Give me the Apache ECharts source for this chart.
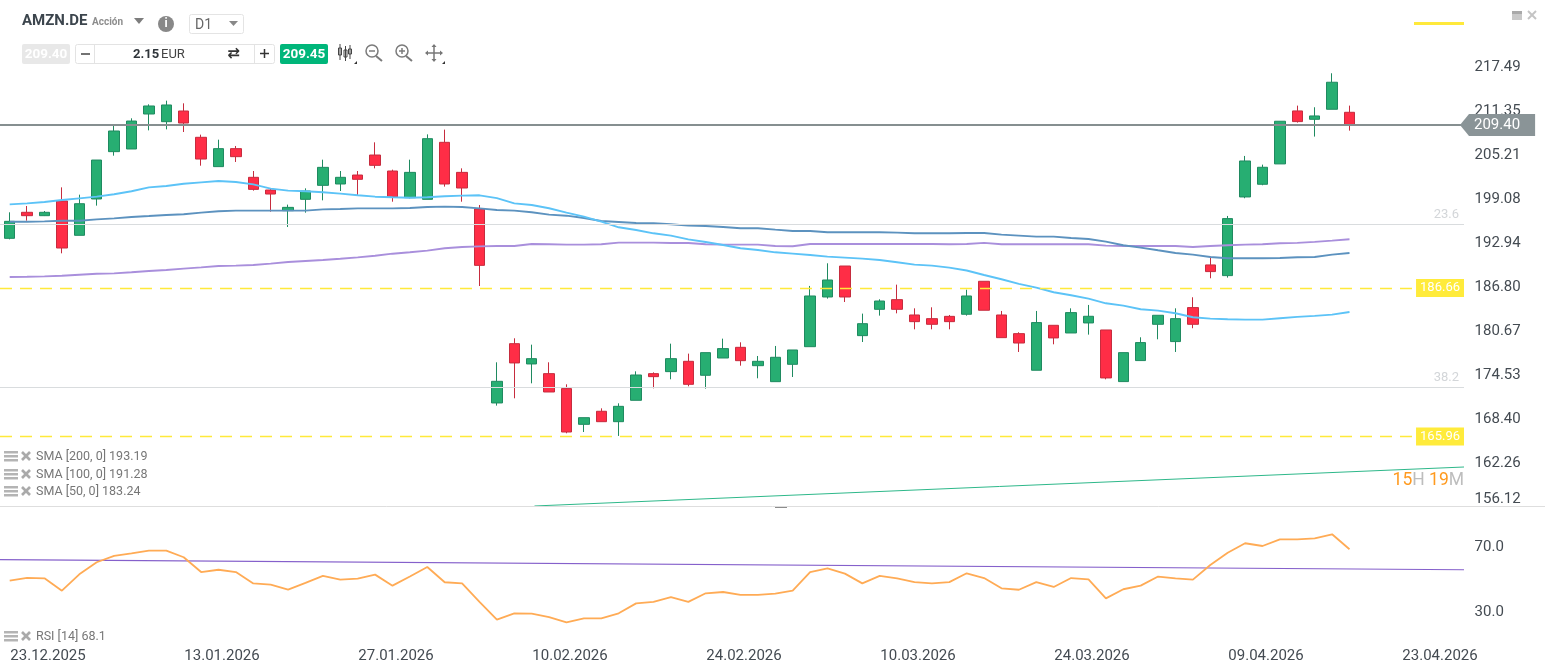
<!DOCTYPE html>
<html><head><meta charset="utf-8">
<style>html,body{margin:0;padding:0;background:#fff}#c{width:1545px;height:667px}</style>
<script src="https://cdn.jsdelivr.net/npm/echarts@6/dist/echarts.min.js"></script>
</head><body><div id="c"></div>
<script>
const dates = ['19.12.2025','22.12.2025','23.12.2025','29.12.2025','30.12.2025','02.01.2026','05.01.2026','06.01.2026','07.01.2026','08.01.2026','09.01.2026','12.01.2026','13.01.2026','14.01.2026','15.01.2026','16.01.2026','19.01.2026','20.01.2026','21.01.2026','22.01.2026','23.01.2026','26.01.2026','27.01.2026','28.01.2026','29.01.2026','30.01.2026','02.02.2026','03.02.2026','04.02.2026','05.02.2026','06.02.2026','09.02.2026','10.02.2026','11.02.2026','12.02.2026','13.02.2026','16.02.2026','17.02.2026','18.02.2026','19.02.2026','20.02.2026','23.02.2026','24.02.2026','25.02.2026','26.02.2026','27.02.2026','02.03.2026','03.03.2026','04.03.2026','05.03.2026','06.03.2026','09.03.2026','10.03.2026','11.03.2026','12.03.2026','13.03.2026','16.03.2026','17.03.2026','18.03.2026','19.03.2026','20.03.2026','23.03.2026','24.03.2026','25.03.2026','26.03.2026','27.03.2026','30.03.2026','31.03.2026','01.04.2026','02.04.2026','07.04.2026','08.04.2026','09.04.2026','10.04.2026','13.04.2026','14.04.2026','15.04.2026','16.04.2026','17.04.2026','20.04.2026','21.04.2026','22.04.2026','23.04.2026','24.04.2026'];
const tickDates = ['23.12.2025','13.01.2026','27.01.2026','10.02.2026','24.02.2026','10.03.2026','24.03.2026','09.04.2026','23.04.2026'];
const priceTicks = [156.12,162.26,168.40,174.53,180.67,186.80,192.94,199.08,205.21,211.35,217.49];
const rsiTicks = [30,70];
// open, close, low, high
const ohlc = [
[193.59,195.96,193.45,197.22],[197.22,196.75,196.05,198.10],[196.75,197.22,196.70,197.40],[198.80,192.24,191.50,200.70],
[194.01,198.42,194.01,199.68],[199.08,204.51,198.15,204.51],[205.68,208.56,205.12,209.26],[206.05,209.95,206.05,210.33],
[210.93,212.05,208.65,212.28],[209.86,212.19,208.79,212.79],[211.35,209.67,208.42,212.42],[207.68,204.65,203.72,208.05],
[203.59,206.10,203.59,207.35],[206.10,204.98,204.24,206.47],[202.10,200.42,200.24,202.98],[200.33,199.77,197.31,200.56],
[197.45,197.91,195.17,198.29],[199.03,200.19,197.17,200.56],[200.98,203.49,198.89,204.56],[201.17,202.10,200.19,202.98],
[202.42,201.82,199.59,202.98],[205.21,203.77,203.35,206.98],[202.98,199.36,198.70,203.17],[199.26,202.79,199.17,204.56],
[199.03,207.49,199.03,208.09],[206.98,201.17,200.80,208.75],[202.79,200.61,198.70,203.35],[197.68,189.82,186.94,198.24],
[170.63,173.65,170.26,176.30],[178.90,176.21,171.28,179.65],[176.07,176.81,173.37,178.76],[174.72,172.16,172.16,176.30],
[172.63,166.58,166.40,173.23],[167.65,168.58,166.58,168.58],[169.47,168.02,168.02,169.88],[168.02,170.16,166.03,170.58],
[171.00,174.53,171.00,175.04],[174.72,174.30,172.67,174.90],[175.00,176.81,173.93,178.90],[176.44,173.23,172.95,177.51],
[174.49,177.65,172.63,177.65],[176.90,178.21,176.90,179.60],[178.39,176.53,175.83,179.09],[175.83,176.44,174.07,177.18],
[173.60,177.00,173.60,178.58],[176.02,178.02,174.25,178.02],[178.48,185.55,178.48,186.95],[185.41,187.78,185.18,190.11],
[189.73,185.41,184.71,189.73],[180.02,181.69,179.13,183.09],[183.69,184.85,182.81,185.09],[185.04,183.69,183.13,187.13],
[182.90,181.97,180.90,183.83],[182.39,181.60,180.90,183.97],[182.71,181.97,180.90,182.90],[183.00,185.55,182.81,186.43],
[187.60,183.56,183.56,187.60],[182.90,179.74,179.74,183.46],[180.30,178.99,177.74,180.49],[175.19,181.84,175.19,183.46],
[181.46,179.70,178.81,181.46],[180.39,183.23,180.39,183.83],[181.79,182.72,180.16,184.30],[180.81,174.12,173.93,180.81],
[173.61,177.65,173.61,177.65],[176.54,179.05,176.54,179.79],[181.60,182.86,179.51,182.86],[179.19,182.39,177.74,183.83],
[183.93,181.60,181.05,185.37],[189.88,188.95,188.02,191.04],[188.39,196.34,188.11,196.71],[199.36,204.38,199.18,205.08],
[201.13,203.50,200.99,203.87],[203.97,209.92,203.97,209.92],[211.36,209.87,209.73,212.10],[210.19,210.66,207.78,211.87],
[211.59,215.36,211.59,216.61],[211.17,209.40,208.61,212.10]];
const sma50 = [198.33,198.47,198.66,198.94,199.17,199.40,199.73,200.15,200.70,200.89,201.21,201.40,201.59,201.45,201.12,200.52,200.24,200.15,200.01,199.82,199.59,199.40,199.31,199.26,199.31,199.45,199.54,199.59,199.20,198.47,198.24,197.78,197.17,196.62,195.92,195.13,194.76,194.29,193.97,193.45,193.08,192.66,192.20,191.97,191.64,191.46,191.27,191.04,190.90,190.76,190.57,190.25,189.92,189.78,189.50,189.10,188.48,187.88,187.23,186.72,186.07,185.65,185.18,184.53,184.21,183.70,183.51,183.14,182.58,182.39,182.30,182.25,182.25,182.44,182.63,182.77,182.95,183.32];
const sma100 = [195.91,195.91,195.96,196.05,196.05,196.24,196.38,196.57,196.70,196.84,196.94,197.17,197.36,197.45,197.45,197.45,197.45,197.45,197.63,197.68,197.77,197.77,197.77,197.82,197.96,198.01,197.96,197.77,197.55,197.45,197.22,196.89,196.75,196.43,196.01,195.87,195.73,195.69,195.55,195.36,195.31,195.17,194.99,194.99,194.80,194.62,194.62,194.43,194.43,194.43,194.43,194.38,194.29,194.29,194.29,194.34,194.34,194.11,193.97,193.83,193.83,193.64,193.50,193.13,192.62,192.30,191.92,191.55,191.32,190.99,190.81,190.81,190.81,190.85,190.95,190.99,191.32,191.55];
const sma200 = [188.20,188.24,188.29,188.38,188.52,188.66,188.71,188.85,189.03,189.17,189.36,189.54,189.73,189.78,189.87,190.06,190.29,190.43,190.57,190.75,190.94,191.17,191.45,191.64,191.87,192.20,192.38,192.47,192.52,192.52,192.80,192.76,192.71,192.71,192.76,192.99,192.99,192.99,192.94,192.94,192.76,192.71,192.71,192.71,192.52,192.48,192.80,192.80,192.80,192.80,192.80,192.80,192.80,192.80,192.76,192.81,192.95,192.76,192.76,192.76,192.76,192.76,192.76,192.57,192.53,192.53,192.53,192.53,192.39,192.53,192.62,192.71,192.76,192.90,192.95,193.09,193.27,193.46];
const rsi = [49.3,51.0,50.7,43.1,53.2,60.6,64.5,66.1,67.8,67.8,63.7,54.6,56.0,54.6,47.6,46.8,43.8,47.9,52.2,49.9,50.5,53.0,46.2,51.8,57.7,48.3,47.6,36.2,25.3,29.2,29.0,26.9,23.6,26.1,26.1,29.2,35.3,36.2,39.2,36.2,41.5,42.3,40.5,40.5,41.3,43.1,54.6,56.9,53.6,47.6,52.2,50.7,48.4,47.6,48.4,53.8,50.9,44.6,43.7,48.4,45.4,50.9,50.1,38.4,44.0,46.2,51.8,50.7,49.9,58.9,66.5,72.3,70.6,74.7,74.7,75.3,77.8,68.6];
const lastPrice = 209.40;
const supportLevels = [186.66,165.96];
const fibLevels = [{v:195.59,n:'23.6'},{v:172.79,n:'38.2'}];
const trendPrice = [[30.16,156.26],[83.6,161.70]];
const trendRsi = [[-0.56,62.2],[83.6,56.0]];
const legends = [['SMA [200, 0] 193.19',456],['SMA [100, 0] 191.28',474],['SMA [50, 0] 183.24',491],['RSI [14] 68.1',636]];

const F='Roboto';
const T=(x,y,text,size,fill,extra)=>({type:'text',silent:true,z:50,style:Object.assign({x,y,text,fontFamily:F,fontSize:size,fill,verticalAlign:'middle'},extra||{})});
const R=(x,y,w,h,fill,stroke,r)=>({type:'rect',silent:true,z:49,shape:{x,y,width:w,height:h,r:r||0},style:{fill:fill||'none',stroke:stroke||'none',lineWidth:1}});
const L=(a,b,c,d,col,w)=>({type:'line',silent:true,z:50,shape:{x1:a,y1:b,x2:c,y2:d},style:{stroke:col,lineWidth:w||1}});
const P=(pts,fill)=>({type:'polygon',silent:true,z:50,shape:{points:pts},style:{fill}});
const C=(x,y,r,fill,stroke,w)=>({type:'circle',silent:true,z:50,shape:{cx:x,cy:y,r},style:{fill:fill||'none',stroke:stroke||'none',lineWidth:w||1}});

const g=[];
// header
g.push(T(22,21.5,'AMZN.DE',15,'#3c454d',{fontWeight:'bold'}),T(92,22.5,'Acción',10,'#8d8d8d',{fontWeight:'bold'}));
g.push(P([[134,18],[144,18],[139,24]],'#7d7d7d'));
g.push(C(166,24,8,'#888'),T(166,24,'i',12,'#fff',{fontWeight:'bold',align:'center'}));
g.push(R(189.5,14.5,54,19,'#fff','#e4e4e4',2),T(195,25,'D1',14,'#666'),P([[229,21],[238,21],[233.5,26]],'#888'));
g.push(R(22,44,48,20,'#e8e8e8',null,2),T(46,54.5,'209.40',13.5,'#fff',{fontWeight:'bold',align:'center'}));
g.push(R(75.5,44.5,199,19,'#fff','#e3e3e3',2),L(94.5,45,94.5,63,'#e3e3e3'),L(254.5,45,254.5,63,'#e3e3e3'));
g.push(L(81,54,90,54,'#444',1.5),L(260,53.5,269,53.5,'#333',1.5),L(264.5,49,264.5,58,'#333',1.5));
g.push(T(133,54.5,'2.15',13,'#2f353a',{fontWeight:'bold'}),T(161,54.5,'EUR',13,'#444'),T(233.5,54,'⇄',15,'#333',{align:'center',fontFamily:'DejaVu Sans',fontWeight:'bold'}));
g.push(R(280,44,48,20,'#00b67a',null,2),T(304,54.5,'209.45',13.5,'#fff',{fontWeight:'bold',align:'center'}));
[[340,48,55,44,60],[345.5,50,57,46,61],[350,49,54,45,59]].forEach(a=>{g.push(L(a[0],a[3],a[0],a[4],'#444'),R(a[0]-1.5,a[1],3,a[2]-a[1],'#fff','#444'));});
g.push(P([[354,64],[357,64],[357,61]],'#333'),P([[442,64],[445,64],[445,61]],'#333'));
g.push(C(372,51,6,null,'#7b7b7b',1.5),L(376,56,382,61,'#7b7b7b',2),L(369,51,375,51,'#7b7b7b',1.5));
g.push(C(402,51,6,null,'#7b7b7b',1.5),L(406,56,412,61,'#7b7b7b',2),L(399,51,405,51,'#7b7b7b',1.5),L(402,48,402,54,'#7b7b7b',1.5));
g.push(L(426,53,442,53,'#777',1.5),L(434,45,434,61,'#777',1.5),P([[425,53],[428,50.5],[428,55.5]],'#777'),P([[443,53],[440,50.5],[440,55.5]],'#777'),P([[434,44],[431.5,47],[436.5,47]],'#777'),P([[434,62],[431.5,59],[436.5,59]],'#777'));
g.push(R(1414,22,50,3,'#ffe93b'));
g.push(R(1512,11,10,9,'#c9c9c9'),R(1512,11,10,3,'#a9a9a9'),L(1528,11,1536,19,'#c4c4c4',2),L(1536,11,1528,19,'#c4c4c4',2));
// panel furniture
g.push(L(0,506.5,1545,506.5,'#dedede'),R(775,506,12,2,'#8c8c8c'));
g.push(P([[1460,125],[1469,114],[1469,136]],'#8a9497'));
g.push(T(1464,481,'{o|15}{g|H} {o|19}{g|M}',17.5,'#bbb',{align:'right',rich:{o:{fill:'#ff9a1f',fontSize:17.5,fontFamily:F},g:{fill:'#bdbdbd',fontSize:17.5,fontFamily:F}}}));
legends.forEach(l=>{const y=l[1];
 g.push(R(4,y-5,14,2.5,'#b4b4b4'),R(4,y-1,14,2.5,'#b4b4b4'),R(4,y+3,14,2.5,'#b4b4b4'),L(22,y-4,30,y+4,'#aaa',2.6),L(30,y-4,22,y+4,'#aaa',2.6),T(36,y+1,l[0],12.5,'#777'));
});

const hline=v=>[{x:0,yAxis:v},{x:1464,yAxis:v}];
const priceSeries=(name,data,col)=>({name,type:'line',data,xAxisIndex:0,yAxisIndex:0,symbol:'none',z:4,silent:true,lineStyle:{color:col,width:1.9}});
const opt={animation:false,backgroundColor:'#fff',
 grid:[{left:1,top:0,width:1461.6,height:507},{left:1,top:507,width:1461.6,height:138}],
 xAxis:[
  {type:'category',data:dates,gridIndex:0,show:false,boundaryGap:true},
  {type:'category',data:dates,gridIndex:1,boundaryGap:true,axisLine:{show:false},axisTick:{show:false},splitLine:{show:false},
   axisLabel:{interval:(i)=>tickDates.includes(dates[i]),fontFamily:F,fontSize:15,color:'#444b52',margin:4,padding:[0,0,0,7],hideOverlap:false}},
  {type:'value',gridIndex:0,min:-0.5,max:83.5,show:false,splitLine:{show:false}},
  {type:'value',gridIndex:1,min:-0.5,max:83.5,show:false,splitLine:{show:false}}],
 yAxis:[
  {type:'value',gridIndex:0,position:'right',min:156.12,max:226.83,scale:true,splitLine:{show:false},axisLine:{show:false},axisTick:{show:false},
   axisLabel:{customValues:priceTicks,formatter:v=>v.toFixed(2),fontFamily:F,fontSize:15,color:'#444b52',margin:12,verticalAlignMinLabel:'bottom'}},
  {type:'value',gridIndex:1,position:'right',min:9.7,max:94.6,splitLine:{show:false},axisLine:{show:false},axisTick:{show:false},
   axisLabel:{customValues:rsiTicks,formatter:v=>v.toFixed(1),fontFamily:F,fontSize:15,color:'#444b52',margin:12,padding:[4,0,0,0]}}],
 series:[
  {name:'Fib',type:'line',data:[],xAxisIndex:0,yAxisIndex:0,z:1,silent:true,
   markLine:{silent:true,symbol:'none',animation:false,lineStyle:{color:'#d9dcde',width:1.2,type:'solid'},
    data:fibLevels.map(f=>{const p=hline(f.v);p[0].name=f.n;p[1].name=f.n;return p;}),label:{position:'insideEndTop',formatter:'{b}',color:'#d3d6d9',fontFamily:F,fontSize:13,distance:[5,3]}}},
  {name:'Last',type:'line',data:[],xAxisIndex:0,yAxisIndex:0,z:2,silent:true,
   markLine:{silent:true,symbol:'none',animation:false,lineStyle:{color:'#868f90',width:2,type:'solid'},
    data:[hline(lastPrice)],label:{position:'end',distance:5,formatter:()=>lastPrice.toFixed(2),color:'#fff',fontFamily:F,fontSize:15,backgroundColor:'#8a9497',padding:[4,15,3,5],lineHeight:15}}},
  {name:'AMZN.DE',type:'candlestick',data:ohlc,xAxisIndex:0,yAxisIndex:0,z:3,barWidth:11,silent:true,
   itemStyle:{color:'#27ae72',color0:'#ff2d46',borderColor:'#1f8a60',borderColor0:'#c62c3e',borderWidth:1}},
  priceSeries('SMA 200',sma200,'#a98fdc'),
  priceSeries('SMA 100',sma100,'#5c92bf'),
  priceSeries('SMA 50',sma50,'#5cc3f7'),
  {name:'Support',type:'line',data:[],xAxisIndex:0,yAxisIndex:0,z:5,silent:true,
   markLine:{silent:true,symbol:'none',animation:false,lineStyle:{color:'#ffe93b',width:1.3,type:[12,8]},
    data:supportLevels.map((v,i)=>{const p=hline(v);p[0].name=p[1].name=v.toFixed(2);return p;}),label:{position:'insideEnd',distance:0,formatter:'{b}',color:'#fff',fontFamily:F,fontSize:13,backgroundColor:'#ffeb3b',padding:[3,4,2,4]}}},
  {name:'Trend',type:'line',data:trendPrice,xAxisIndex:2,yAxisIndex:0,symbol:'none',z:4,silent:true,clip:false,lineStyle:{color:'#2eb88a',width:1}},
  {name:'RSI level',type:'line',data:trendRsi,xAxisIndex:3,yAxisIndex:1,symbol:'none',z:2,silent:true,clip:false,lineStyle:{color:'#8560cb',width:1.1}},
  {name:'RSI',type:'line',data:rsi,xAxisIndex:1,yAxisIndex:1,symbol:'none',z:3,silent:true,lineStyle:{color:'#ffab55',width:1.8}}
 ],
 graphic:g};
const chart=echarts.init(document.getElementById('c'));
chart.setOption(opt);
</script></body></html>
